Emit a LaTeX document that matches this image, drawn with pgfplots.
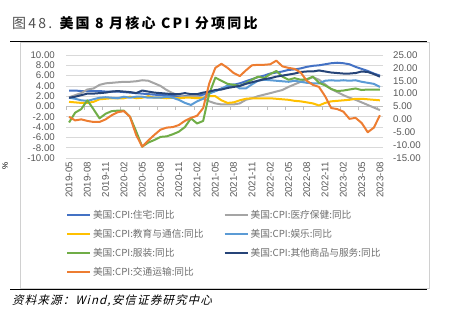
\documentclass[border=0pt]{standalone}
\usepackage{pgfplots}
\pgfplotsset{compat=1.18}
\usepackage{pgfplotstable}
\usepackage{fontspec}
\setmainfont{Liberation Sans}
\newfontfamily\cjk{Noto Sans CJK SC}
\newfontfamily\cjktitle[LetterSpace=16]{Noto Sans CJK SC}
\newfontfamily\cjkit[FakeSlant=0.25,LetterSpace=10]{Noto Sans CJK SC}
\definecolor{cH}{HTML}{4472C4}
\definecolor{cM}{HTML}{A5A5A5}
\definecolor{cE}{HTML}{FFC000}
\definecolor{cR}{HTML}{5B9BD5}
\definecolor{cA}{HTML}{70AD47}
\definecolor{cO}{HTML}{264478}
\definecolor{cT}{HTML}{ED7D31}
\definecolor{gridgray}{HTML}{D9D9D9}
\definecolor{axisgray}{HTML}{BFBFBF}
\definecolor{tickgray}{HTML}{595959}
\definecolor{legendgray}{HTML}{6E6E6E}
\definecolor{framegray}{HTML}{D0D0D0}
\definecolor{titlegray}{HTML}{505050}

\pgfplotstableread{
i H M E R A O T
0 3.1 1.8 0.9 1.7 -3.1 1.7 1.0
1 3.1 2.2 0.8 1.5 -1.2 1.9 -0.4
2 3.0 2.6 0.7 1.2 -0.5 2.2 0.0
3 3.0 3.3 0.7 1.1 1.2 2.5 -0.6
4 3.0 3.5 0.9 1.4 -0.5 2.5 -1.0
5 3.0 4.2 1.4 1.7 -2.3 2.6 -1.0
6 2.9 4.5 1.5 1.8 -1.4 2.7 0.0
7 2.9 4.6 1.6 1.7 -0.9 2.9 1.6
8 2.9 4.7 1.6 1.6 -0.8 3.0 2.8
9 2.8 4.8 1.6 1.9 -0.8 2.9 3.2
10 2.7 4.8 1.9 1.7 -2.0 2.8 1.0
11 2.6 4.9 1.6 1.9 -4.8 2.6 -6.0
12 2.5 5.1 1.7 1.9 -7.8 3.1 -10.6
13 2.4 5.0 2.0 1.7 -7.0 2.9 -8.2
14 2.3 4.5 1.7 1.7 -6.5 2.7 -6.0
15 2.2 4.0 1.7 1.7 -5.9 2.6 -4.0
16 2.2 3.2 1.6 1.9 -5.8 2.5 -3.2
17 2.0 2.6 1.7 1.7 -5.4 2.4 -3.0
18 2.0 2.2 1.6 1.3 -4.9 2.4 -2.2
19 2.0 1.9 1.7 0.7 -4.0 2.6 -0.6
20 2.0 2.0 1.7 0.3 -2.3 2.4 0.6
21 2.1 2.0 1.6 1.0 -3.3 2.4 1.4
22 2.3 1.6 1.7 1.5 -2.8 2.7 4.4
23 2.6 1.0 2.0 2.5 2.5 2.9 14.0
24 3.0 0.6 2.0 3.0 5.6 3.2 20.0
25 3.5 0.4 1.2 3.4 5.0 3.3 21.6
26 3.9 0.4 0.7 4.1 4.4 3.6 20.0
27 4.2 0.4 0.8 4.3 4.2 3.8 18.0
28 4.5 0.6 1.2 3.5 4.0 4.0 16.8
29 4.9 1.3 1.5 3.5 4.5 4.4 19.0
30 5.3 1.6 1.6 4.3 5.2 4.7 21.0
31 5.7 2.0 1.6 5.0 5.8 5.0 21.2
32 6.0 2.3 1.6 5.2 5.5 5.3 21.2
33 6.4 2.6 1.6 5.1 6.3 5.5 21.4
34 6.6 2.9 1.5 5.0 6.9 5.8 22.8
35 6.8 3.2 1.4 4.9 5.8 6.0 20.6
36 7.1 3.8 1.3 4.8 5.2 6.2 20.0
37 7.2 4.3 1.1 5.0 5.5 6.4 19.6
38 7.4 4.8 1.0 4.8 5.2 6.7 18.2
39 7.7 5.2 0.8 4.6 5.3 6.8 15.0
40 7.9 5.7 0.6 4.5 5.8 6.8 13.4
41 8.0 5.2 0.2 4.5 4.6 7.0 12.6
42 8.2 4.3 0.7 5.0 4.1 6.8 9.0
43 8.4 3.4 1.0 5.1 3.4 6.6 4.4
44 8.5 2.8 1.1 5.0 3.0 6.5 4.0
45 8.4 2.2 1.2 5.1 3.1 6.4 3.0
46 8.2 1.7 1.3 5.0 3.3 6.4 0.2
47 7.7 1.3 1.5 5.1 3.5 6.5 0.6
48 7.3 0.8 1.5 4.8 3.2 6.8 -1.4
49 6.9 0.3 1.4 4.6 3.3 6.7 -5.0
50 6.4 -0.2 1.3 4.4 3.3 6.3 -3.2
51 6.0 -0.7 1.2 3.8 3.3 5.8 1.6
}\data

\begin{document}
\begin{tikzpicture}
\useasboundingbox (0bp,0bp) rectangle (450bp,-327bp);
% title
\node[anchor=base west, inner sep=0pt] at (12bp,-28bp)
  {\fontsize{14bp}{15bp}\selectfont\cjktitle{\color{titlegray}图48.} \bfseries 美国 8 月核心 CPI 分项同比};
\draw[line width=1.3bp] (10bp,-41.5bp) -- (427bp,-41.5bp);
\draw[framegray, line width=0.8bp] (20bp,-42.5bp) rectangle (429bp,-288bp);
\draw[line width=1.1bp] (10bp,-289.5bp) -- (427bp,-289.5bp);
\node[anchor=base west, inner sep=0pt] at (12bp,-304bp)
  {\fontsize{11.5bp}{13bp}\selectfont\cjkit 资料来源：Wind,安信证券研究中心};
\node[rotate=90, inner sep=0pt] at (5bp,-166bp) {\fontsize{8bp}{9bp}\selectfont\%};

\begin{axis}[
  at={(66bp,-158bp)}, anchor=south west,
  scale only axis, width=317bp, height=103bp,
  xmin=-0.5, xmax=51.5, ymin=-10, ymax=10,
  axis line style={draw=none},
  tick style={draw=none},
  ytick={-10,-8,-6,-4,-2,0,2,4,6,8,10},
  yticklabels={-10.00,-8.00,-6.00,-4.00,-2.00,0.00,2.00,4.00,6.00,8.00,10.00},
  xtick={0,3,...,51},
  xticklabels={2019-05,2019-08,2019-11,2020-02,2020-05,2020-08,2020-11,2021-02,2021-05,2021-08,2021-11,2022-02,2022-05,2022-08,2022-11,2023-02,2023-05,2023-08},
  ymajorgrids, grid style={gridgray, line width=0.8bp},
  tick label style={font=\fontsize{9.7bp}{10bp}\selectfont, text=tickgray},
  y tick label style={anchor=east, inner sep=0pt, xshift=-11bp},
  x tick label style={rotate=90, anchor=east, inner sep=0pt},
  xticklabel shift=4bp,
  legend columns=2,
  legend cell align=left,
  legend style={at={(0,-0.516)}, anchor=north west, draw=none, fill=none,
    inner sep=0pt, outer sep=0pt,
    font=\cjk\fontsize{9.7bp}{10bp}\selectfont, text=legendgray,
    row sep=9.5bp,
    /tikz/every even column/.append style={column sep=20bp},
    /tikz/every odd column/.append style={column sep=2bp},
    nodes={inner sep=0pt, text height=7.5bp, text depth=2bp, anchor=base west}},
  legend image code/.code={\draw[#1, line width=2bp] (0bp,3.5bp) -- (23bp,3.5bp);},
]
\draw[axisgray, line width=0.8bp] (axis cs:-0.5,0) -- (axis cs:51.5,0);
\pgfplotsinvokeforeach{-0.5,2.5,5.5,8.5,11.5,14.5,17.5,20.5,23.5,26.5,29.5,32.5,35.5,38.5,41.5,44.5,47.5,50.5}{
  \draw[axisgray, line width=0.8bp] (axis cs:#1,0) -- ++(0bp,-3bp);
}
\addplot[cH, line width=2bp, line join=round] table[x=i,y=H]{\data};
\addlegendentry{美国:CPI:住宅:同比}
\addplot[cM, line width=2bp, line join=round] table[x=i,y=M]{\data};
\addlegendentry{美国:CPI:医疗保健:同比}
\addplot[cE, line width=2bp, line join=round] table[x=i,y=E]{\data};
\addlegendentry{美国:CPI:教育与通信:同比}
\addplot[cR, line width=2bp, line join=round] table[x=i,y=R]{\data};
\addlegendentry{美国:CPI:娱乐:同比}
\addplot[cA, line width=2bp, line join=round] table[x=i,y=A]{\data};
\addlegendentry{美国:CPI:服装:同比}
\addplot[cO, line width=2bp, line join=round] table[x=i,y=O]{\data};
\addlegendentry{美国:CPI:其他商品与服务:同比}
\addlegendimage{cT}
\addlegendentry{美国:CPI:交通运输:同比}
\end{axis}

\begin{axis}[
  at={(66bp,-158bp)}, anchor=south west,
  scale only axis, width=317bp, height=103bp,
  xmin=-0.5, xmax=51.5, ymin=-15, ymax=25,
  axis line style={draw=none},
  tick style={draw=none},
  xtick=\empty,
  ytick={-15,-10,-5,0,5,10,15,20,25},
  yticklabels={-15.00,-10.00,-5.00,0.00,5.00,10.00,15.00,20.00,25.00},
  yticklabel pos=right,
  tick label style={font=\fontsize{9.7bp}{10bp}\selectfont, text=tickgray},
  y tick label style={anchor=west, inner sep=0pt, xshift=10bp},
]
\addplot[cT, line width=2bp, line join=round] table[x=i,y=T]{\data};
\end{axis}
\end{tikzpicture}
\end{document}
